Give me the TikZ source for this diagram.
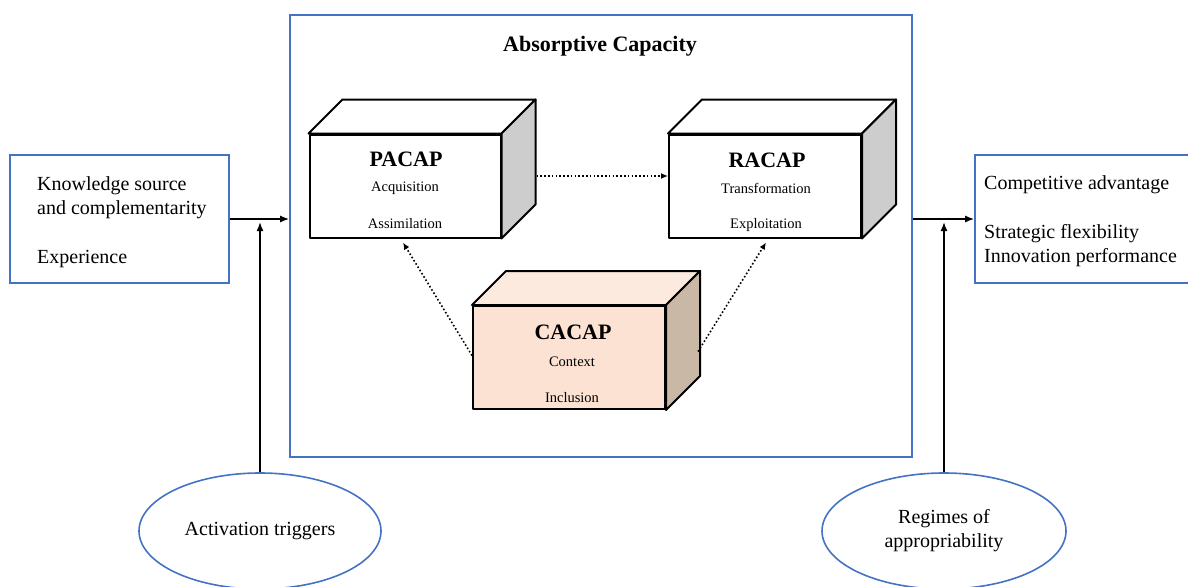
\documentclass[tikz,border=0pt]{standalone}
\usepackage{fontspec}
\setmainfont{Liberation Serif}
\usetikzlibrary{shapes.geometric,arrows.meta,calc}
\definecolor{boxblue}{HTML}{4472C4}
\definecolor{peachfront}{HTML}{FBE2D3}
\definecolor{peachtop}{HTML}{FCEADF}
\definecolor{peachside}{HTML}{C9B8A6}
\definecolor{sidegray}{HTML}{CDCDCD}
\begin{document}
\begin{tikzpicture}[x=1pt,y=-1pt,
  bluebox/.style={draw=boxblue,line width=1.6pt,rectangle,inner sep=0pt},
  front/.style={draw=black,line width=2pt,rectangle,inner sep=0pt,line join=round},
  face/.style={draw=black,line width=2pt,line join=round},
  big/.style={font=\fontsize{20}{24.5}\selectfont},
  cubetitle/.style={font=\bfseries\fontsize{22}{26}\selectfont,inner sep=0pt},
  cubetext/.style={font=\fontsize{14.5}{17}\selectfont,inner sep=0pt},
  oval/.style={ellipse,draw=boxblue,line width=1.6pt,inner sep=0pt,font=\fontsize{20}{24}\selectfont,align=center},
  solidarrow/.style={line width=1.6pt,-{Latex[length=9pt,width=7pt]}},
  dotarrow/.style={line width=1.6pt,dash pattern=on 1.6pt off 2.2pt,-{Latex[length=7pt,width=6pt]}}
]
\useasboundingbox (0,0) rectangle (1188,586);
\clip (0,0) rectangle (1188,586);

% main box
\node[bluebox,minimum width=622pt,minimum height=442pt] (acap) at (601,236) {};
\node[font=\bfseries\fontsize{22}{26}\selectfont] (acaptitle) at (600,46) {Absorptive Capacity};

% left box
\node[bluebox,minimum width=219pt,minimum height=128pt] (src) at (119.5,219) {};
\node[big,anchor=north west,align=left,inner sep=0pt] (srctext) at (37,176)
  {Knowledge source\\and complementarity\\[24.5pt]Experience};

% right box
\node[bluebox,minimum width=240pt,minimum height=128pt] (out) at (1095,219) {};
\node[big,anchor=north west,align=left,inner sep=0pt] (outtext) at (984,175)
  {Competitive advantage\\[24.5pt]Strategic flexibility\\Innovation performance};

% PACAP cube
\node[front,fill=white,minimum width=191pt,minimum height=103pt] (pacap) at (405,186) {};
\draw[face,fill=white] (pacap.north west) -- ++(34,-34) -- ($(pacap.north east)+(34,-34)$) -- (pacap.north east) -- cycle;
\draw[face,fill=sidegray] (pacap.north east) -- ++(34,-34) -- ($(pacap.south east)+(34,-34)$) -- (pacap.south east) -- cycle;
\node[cubetitle] (pacapt) at (406,159) {PACAP};
\node[cubetext] (pacapa) at (405,188) {Acquisition};
\node[cubetext] (pacapb) at (405,224) {Assimilation};

% RACAP cube
\node[front,fill=white,minimum width=192pt,minimum height=103pt] (racap) at (765,186) {};
\draw[face,fill=white] (racap.north west) -- ++(34,-34) -- ($(racap.north east)+(34,-34)$) -- (racap.north east) -- cycle;
\draw[face,fill=sidegray] (racap.north east) -- ++(34,-34) -- ($(racap.south east)+(34,-34)$) -- (racap.south east) -- cycle;
\node[cubetitle] (racapt) at (767,160) {RACAP};
\node[cubetext] (racapa) at (766,188) {Transformation};
\node[cubetext] (racapb) at (766,225) {Exploitation};

% CACAP cube
\node[front,fill=peachfront,minimum width=192pt,minimum height=103pt] (cacap) at (569,357.5) {};
\draw[face,fill=peachtop] (cacap.north west) -- ++(34,-34) -- ($(cacap.north east)+(34,-34)$) -- (cacap.north east) -- cycle;
\draw[face,fill=peachside] (cacap.north east) -- ++(34,-34) -- ($(cacap.south east)+(34,-34)$) -- (cacap.south east) -- cycle;
\node[cubetitle] (cacapt) at (573,332) {CACAP};
\node[cubetext] (cacapa) at (572,362) {Context};
\node[cubetext] (cacapb) at (572,398) {Inclusion};

% ellipses
\node[oval,minimum width=242pt,minimum height=116pt] (act) at (260,531) {Activation triggers};
\node[oval,minimum width=244pt,minimum height=116pt] (reg) at (944,531) {Regimes of\\appropriability};

% solid connectors
\draw[solidarrow] (src.east) -- (acap.west |- src.east);
\draw[solidarrow] (act.north) -- (260,222);
\draw[solidarrow] (acap.east |- out.west) -- (out.west);
\draw[solidarrow] (reg.north) -- (944,222);

% dotted connectors
\coordinate (pside) at ($(pacap.east)+(35,-10)$);
\draw[dotarrow] (pside) -- (racap.west |- pside);
\coordinate (cleft) at ($(cacap.west)+(0,-2)$);
\draw[dotarrow] (cleft) -- ($(pacap.south)+(-2,4)$);
\coordinate (cright) at ($(cacap.east)+(32,-6)$);
\draw[dotarrow] (cright) -- ($(racap.south)+(1,4)$);
\end{tikzpicture}
\end{document}
